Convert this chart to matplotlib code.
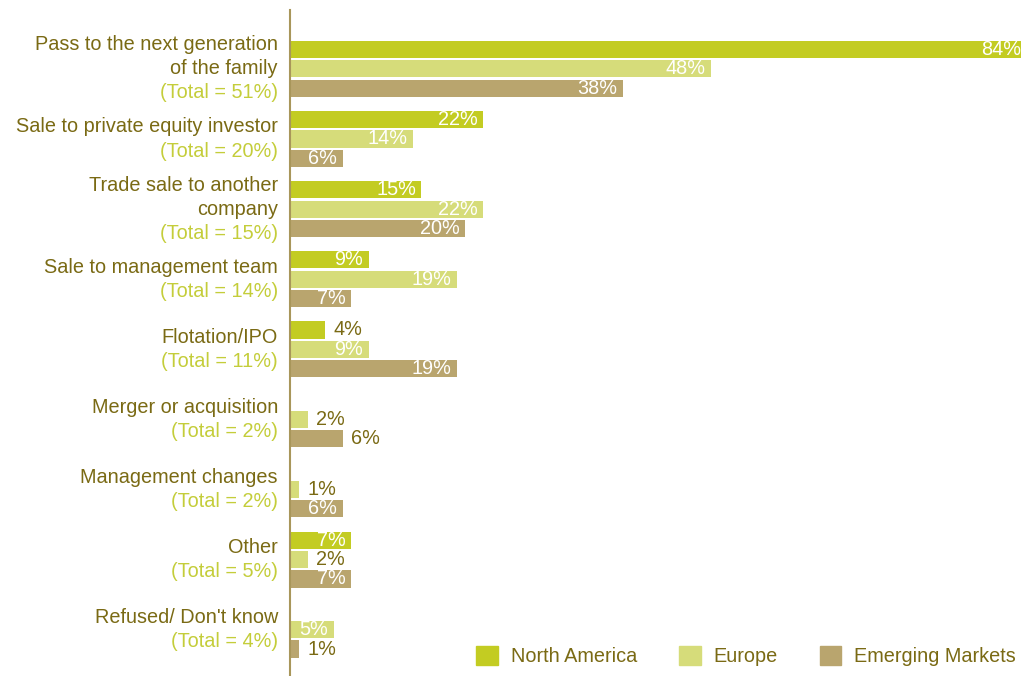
import matplotlib
matplotlib.use("Agg")
import matplotlib.pyplot as plt
from matplotlib.patches import Patch
from matplotlib.transforms import offset_copy
import numpy as np

plt.rcParams["font.family"] = ["Liberation Sans", "DejaVu Sans"]

categories = ["Pass to the next generation\nof the family",
              "Sale to private equity investor",
              "Trade sale to another\ncompany",
              "Sale to management team",
              "Flotation/IPO",
              "Merger or acquisition",
              "Management changes",
              "Other",
              "Refused/ Don't know"]
totals = [51, 20, 15, 14, 11, 2, 2, 5, 4]
series = ["North America", "Europe", "Emerging Markets"]
north_america = [84, 22, 15, 9, 4, np.nan, np.nan, 7, np.nan]
europe = [48, 14, 22, 19, 9, 2, 1, 2, 5]
emerging = [38, 6, 20, 7, 19, 6, 6, 7, 1]

colors = ["#c3cc22", "#d6dc7a", "#b9a56e"]
dark = "#7a6a14"
light = "#c4cd3a"
fs = 14.3
# labels drawn beside the bar instead of inside it
outside = {(5, 2)}

fig = plt.figure(figsize=(10.21, 6.76), dpi=100)
ax = fig.add_axes([290 / 1021, 0, 731 / 1021, 1 - 10 / 676])

y = np.arange(len(categories))
step = 0.276
h = 0.245
for k, vals in enumerate([north_america, europe, emerging]):
    pos = y + (k - 1) * step
    ax.barh(pos, vals, height=h, color=colors[k], label=series[k])
    for i, v in enumerate(vals):
        if np.isnan(v):
            continue
        txt = f"{v:.0f}%"
        if v >= 5 and (i, k) not in outside:
            ax.annotate(txt, (v, pos[i]), xytext=(-4, 0), textcoords="offset points",
                        ha="right", va="center", color="white", fontsize=fs,
                        annotation_clip=False)
        else:
            ax.annotate(txt, (v, pos[i]), xytext=(6, 0), textcoords="offset points",
                        ha="left", va="center", color=dark, fontsize=fs,
                        annotation_clip=False)

ax.set_xlim(0, 83.4)
ax.set_ylim(len(categories) - 1 + 0.66, -0.84)

# category names with the total on the last line
lab_tr = offset_copy(ax.get_yaxis_transform(), fig=fig, x=-12, y=0, units="dots")
line = 0.343
for i, (name, tot) in enumerate(zip(categories, totals)):
    lines = name.split("\n") + [f"(Total = {tot}%)"]
    n = len(lines)
    for j, s in enumerate(lines):
        ax.text(0, i + (j - (n - 1) / 2) * line, s, transform=lab_tr,
                ha="right", va="center", fontsize=fs,
                color=light if j == n - 1 else dark)

for side in ["top", "right", "bottom"]:
    ax.spines[side].set_visible(False)
ax.spines["left"].set_color("#a8965a")
ax.spines["left"].set_linewidth(1.5)
ax.set_xticks([])
ax.set_yticks([])

handles = [Patch(color=c) for c in colors]
fig.legend(handles, series, loc="lower right", bbox_to_anchor=(1026 / 1021, 0 / 676),
           ncol=3, frameon=False, fontsize=fs, handlelength=1.1, handleheight=1.1,
           handletextpad=0.65, columnspacing=2.1, borderpad=0, labelcolor=dark)

plt.savefig("out.png", dpi=100)
